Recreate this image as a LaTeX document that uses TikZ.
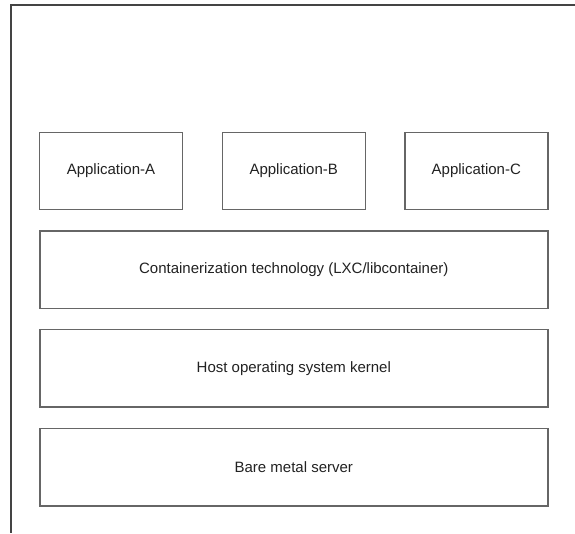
\documentclass[tikz,border=0pt]{standalone}
\usepackage{fontspec}
\setmainfont{Liberation Sans}
\definecolor{boxline}{HTML}{666666}
\definecolor{frameline}{HTML}{444444}
\definecolor{txt}{HTML}{222222}
\begin{document}
\begin{tikzpicture}[x=1pt,y=-1pt,
  layer/.style={draw=boxline,line width=1.4pt,rectangle,inner sep=0pt,
    text=txt,font=\fontsize{15}{18}\selectfont},
  appbox/.style={layer,minimum width=143pt,minimum height=77pt},
  widebox/.style={layer,minimum width=508pt,minimum height=77.5pt}]
\useasboundingbox (0,0) rectangle (575,533);
\fill[white] (0,0) rectangle (575,533);
\coordinate (ftr) at (575,5);
\coordinate (ftl) at (11,5);
\coordinate (fbl) at (11,533);
\draw[frameline,line width=2pt] (ftr) -- (ftl) -- (fbl);
\node[appbox] (appA) at (111,171) {Application-A};
\node[appbox] (appB) at (293.7,171) {Application-B};
\node[appbox] (appC) at (476.3,171) {Application-C};
\node[widebox] (cont) at (293.8,269.7) {Containerization technology (LXC/libcontainer)};
\node[widebox] (host) at (293.8,368.3) {Host operating system kernel};
\node[widebox] (bare) at (293.8,467.2) {Bare metal server};
\end{tikzpicture}
\end{document}
